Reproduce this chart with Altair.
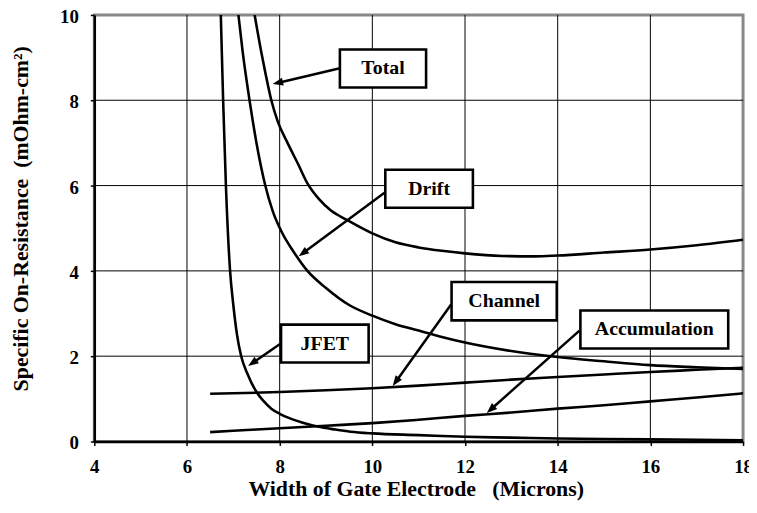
import math
import altair as alt
import pandas as pd

# ---------------- data ----------------
x_ticks = [4, 6, 8, 10, 12, 14, 16, 18]
y_ticks = [0, 2, 4, 6, 8, 10]
grid_x = [6, 8, 10, 12, 14, 16]
grid_y = [2, 4, 6, 8]

total_x = [7.46, 7.6, 7.7, 7.82, 7.96, 8.17, 8.4, 8.6, 8.85, 9.1, 9.46, 10.0, 10.5, 11.0,
           11.5, 12.0, 12.8, 13.5, 14.0, 15.0, 16.0, 17.0, 18.0]
total_y = [10.0, 9.15, 8.6, 8.0, 7.5, 7.0, 6.5, 6.05, 5.68, 5.42, 5.19, 4.88, 4.67, 4.55,
           4.47, 4.41, 4.35, 4.34, 4.36, 4.43, 4.5, 4.6, 4.73]

drift_x = [7.11, 7.2, 7.35, 7.5, 7.69, 7.85, 8.05, 8.3, 8.6, 9.0, 9.5, 10.0, 10.5, 11.0,
           11.5, 12.0, 13.0, 14.0, 15.0, 16.0, 17.0, 18.0]
drift_y = [10.0, 9.15, 8.0, 7.0, 6.0, 5.4, 4.9, 4.45, 4.0, 3.6, 3.2, 2.95, 2.75, 2.6,
           2.45, 2.32, 2.12, 1.98, 1.88, 1.79, 1.74, 1.70]

jfet_x = [6.73, 6.78, 6.84, 6.93, 7.0, 7.08, 7.17, 7.3, 7.5, 7.65, 7.82, 8.0, 8.25, 8.5,
          8.82, 9.2, 9.53, 10.0, 11.0, 12.0, 13.0, 14.0, 15.0, 16.0, 17.0, 18.0]
jfet_y = [10.0, 8.0, 6.0, 4.0, 3.2, 2.5, 2.0, 1.6, 1.16, 0.95, 0.77, 0.65, 0.53, 0.44,
          0.35, 0.28, 0.23, 0.19, 0.15, 0.11, 0.09, 0.07, 0.06, 0.05, 0.04, 0.03]

channel_x = [6.5, 7, 8, 9, 10, 11, 12, 13, 14, 15, 16, 17, 18]
channel_y = [1.12, 1.13, 1.16, 1.2, 1.25, 1.31, 1.38, 1.45, 1.51, 1.57, 1.63, 1.68, 1.73]

accum_x = [6.5, 7, 8, 9, 10, 11, 12, 13, 14, 15, 16, 17, 18]
accum_y = [0.22, 0.25, 0.31, 0.37, 0.43, 0.51, 0.6, 0.68, 0.77, 0.85, 0.94, 1.03, 1.13]

# annotation boxes (data units) and arrows
label_names = ["Total", "Drift", "Channel", "Accumulation", "JFET"]
box_x1 = [9.30, 10.28, 11.71, 14.49, 8.03]
box_x2 = [11.16, 12.17, 13.98, 17.68, 9.92]
box_y1 = [8.30, 5.48, 2.84, 2.18, 1.85]
box_y2 = [9.19, 6.37, 3.74, 3.07, 2.74]
tail_x = [9.30, 10.27, 11.70, 14.47, 8.00]
tail_y = [8.75, 5.84, 3.21, 2.60, 2.28]
head_x = [7.85, 8.41, 10.44, 12.47, 7.32]
head_y = [8.38, 4.34, 1.30, 0.67, 1.77]

# ---------------- layout ----------------
W, H = 654, 430
XMIN, XMAX, YMIN, YMAX = 4, 18, 0, 10
SX = W / (XMAX - XMIN)
SY = H / (YMAX - YMIN)
FONT = "'Liberation Serif', 'Times New Roman', Times, 'DejaVu Serif', serif"

rows = []
for name, xs, ys in [("Total", total_x, total_y), ("Drift", drift_x, drift_y),
                     ("JFET", jfet_x, jfet_y), ("Channel", channel_x, channel_y),
                     ("Accumulation", accum_x, accum_y)]:
    for i, (a, b) in enumerate(zip(xs, ys)):
        rows.append({"series": name, "x": a, "y": b, "i": i})
curves = pd.DataFrame(rows)

ann_rows = []
for k, name in enumerate(label_names):
    dxp = (head_x[k] - tail_x[k]) * SX
    dyp = -(head_y[k] - tail_y[k]) * SY
    L = math.hypot(dxp, dyp)
    ang = math.degrees(math.atan2(dxp, -dyp)) % 360
    back = 6.0  # stop shaft a bit before the tip
    ann_rows.append({
        "label": name,
        "bx1": box_x1[k], "bx2": box_x2[k], "by1": box_y1[k], "by2": box_y2[k],
        "cx": (box_x1[k] + box_x2[k]) / 2, "cy": (box_y1[k] + box_y2[k]) / 2,
        "tx": tail_x[k], "ty": tail_y[k], "hx": head_x[k], "hy": head_y[k],
        "sx2": head_x[k] - dxp / L * back / SX,
        "sy2": head_y[k] + dyp / L * back / SY,
        "ang": ang,
    })
ann = pd.DataFrame(ann_rows)

XS = alt.Scale(domain=[XMIN, XMAX], nice=False, zero=False)
YS = alt.Scale(domain=[YMIN, YMAX], nice=False, zero=False)

X_AXIS = alt.Axis(
    values=x_ticks, format="d", grid=False,
    title="Width of Gate Electrode\u00a0\u00a0\u00a0(Microns)",
    domainColor="black", domainWidth=2.5, tickColor="black", tickSize=4, tickWidth=1.5,
    labelFont=FONT, labelFontSize=19, labelFontWeight="bold", labelColor="black",
    labelBaseline="middle", labelPadding=21, labelFlush=False, labelOverlap=False,
    titleFont=FONT, titleFontSize=22, titleFontWeight="bold", titleColor="black",
    titleX=324, titleY=47, titleBaseline="middle", titleAlign="center",
)
Y_AXIS = alt.Axis(
    values=y_ticks, format="d", grid=False,
    title="Specific On-Resistance\u00a0\u00a0(mOhm-cm\u00b2)",
    domainColor="black", domainWidth=2.5, tickColor="black", tickSize=4, tickWidth=1.5,
    labelFont=FONT, labelFontSize=19, labelFontWeight="bold", labelColor="black",
    labelPadding=12, labelOffset=1.5, labelFlush=False, labelOverlap=False,
    titleFont=FONT, titleFontSize=22, titleFontWeight="bold", titleColor="black",
    titleX=-74, titleY=205, titleAngle=270, titleBaseline="middle", titleAlign="center",
)


def xq(field):
    return alt.X(field, type="quantitative", scale=XS, axis=X_AXIS)


def yq(field):
    return alt.Y(field, type="quantitative", scale=YS, axis=Y_AXIS)


gx = alt.Chart(pd.DataFrame({"gx": grid_x})).mark_rule(color="black", strokeWidth=1).encode(
    x=xq("gx"))
gy = alt.Chart(pd.DataFrame({"gy": grid_y})).mark_rule(color="black", strokeWidth=1).encode(
    y=yq("gy"))

lines = alt.Chart(curves).mark_line(
    color="black", strokeWidth=2.6, clip=True, interpolate="monotone"
).encode(x=xq("x"), y=yq("y"), detail="series:N", order="i:Q")

shafts = alt.Chart(ann).mark_rule(color="black", strokeWidth=2.5).encode(
    x=xq("tx"), y=yq("ty"), x2="sx2:Q", y2="sy2:Q")

heads = alt.Chart(ann).mark_point(
    shape="M0,0L-0.75,2L0.75,2Z", filled=True, color="black", opacity=1, size=110
).encode(x=xq("hx"), y=yq("hy"), angle=alt.Angle("ang:Q", scale=None))

boxes = alt.Chart(ann).mark_rect(fill="white", stroke="black", strokeWidth=2.6).encode(
    x=xq("bx1"), x2="bx2:Q", y=yq("by1"), y2="by2:Q")

texts = alt.Chart(ann).mark_text(
    font=FONT, fontSize=20, fontWeight="bold", color="black", align="center",
    baseline="middle"
).encode(x=xq("cx"), y=yq("cy"), text="label:N")

chart = alt.layer(gx, gy, lines, shafts, heads, boxes, texts).properties(
    width=W, height=H,
    autosize=alt.AutoSizeParams(type="none"),
    padding={"left": 87, "top": 5, "right": 6, "bottom": 60},
    background="white",
).configure_view(stroke="#888888", strokeWidth=3)

chart.save("out.html", embed_options={"renderer": "svg", "actions": False})
